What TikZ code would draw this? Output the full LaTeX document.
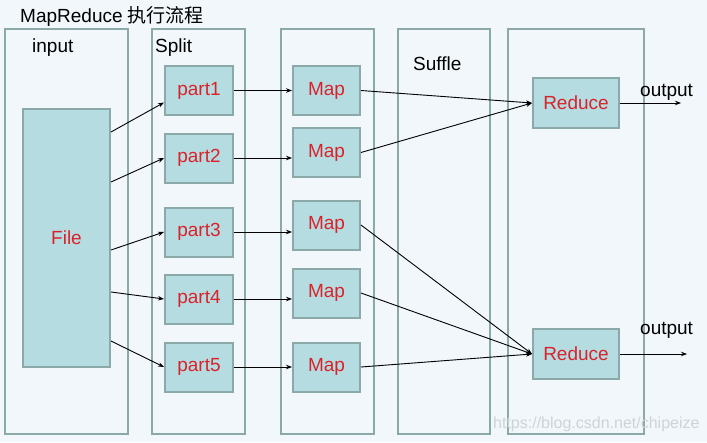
\documentclass[tikz,border=0pt]{standalone}
\usepackage{fontspec}
\setmainfont{Liberation Sans}
\newfontfamily\cjk{Noto Sans CJK SC}
\usetikzlibrary{arrows.meta,calc}
\definecolor{bgc}{HTML}{F2F7FB}
\definecolor{edgec}{HTML}{8CA9AA}
\definecolor{boxc}{HTML}{B5DCE1}
\definecolor{redc}{HTML}{D9232B}
\definecolor{wmc}{HTML}{CDD4D9}
\begin{document}
\begin{tikzpicture}[x=1pt,y=-1pt,
  column/.style={draw=edgec,line width=2pt,rectangle,inner sep=0pt},
  stagebox/.style={draw=edgec,fill=boxc,line width=2pt,rectangle,inner sep=0pt,
    minimum width=68pt,minimum height=49pt,font=\fontsize{19}{22}\selectfont,text=redc},
  lbl/.style={inner sep=0pt,font=\fontsize{19}{22}\selectfont,anchor=base west},
  conn/.style={line width=0.9pt,-{Stealth[length=6pt,width=4.5pt]}}]
\fill[bgc] (0,0) rectangle (707,442);
\useasboundingbox (0,0) rectangle (707,442);
% columns
\node[column,minimum width=123pt,minimum height=405pt] (cin) at (66.5,231.5) {};
\node[column,minimum width=93pt,minimum height=405pt] (csplit) at (198.5,231.5) {};
\node[column,minimum width=93pt,minimum height=405pt] (cmap) at (327.5,231.5) {};
\node[column,minimum width=92pt,minimum height=405pt] (csuf) at (444,231.5) {};
\node[column,minimum width=136pt,minimum height=405pt] (cred) at (576,231.5) {};
% labels
\node[lbl] (title) at (20,22) {MapReduce {\cjk 执行流程}};
\node[lbl] (linput) at (32,52) {input};
\node[lbl] (lsplit) at (155,52) {Split};
\node[lbl] (lsuf) at (413,70) {Suffle};
% file
\node[stagebox,minimum width=87pt,minimum height=258pt] (file) at (66.5,238) {File};
% parts
\node[stagebox] (p1) at (199,90.5) {part1};
\node[stagebox] (p2) at (199,158) {part2};
\node[stagebox] (p3) at (199,232) {part3};
\node[stagebox] (p4) at (199,299) {part4};
\node[stagebox] (p5) at (199,367) {part5};
% maps
\node[stagebox,minimum width=67pt] (m1) at (326.5,90.5) {Map};
\node[stagebox,minimum width=67pt] (m2) at (326.5,152.5) {Map};
\node[stagebox,minimum width=67pt] (m3) at (326.5,225) {Map};
\node[stagebox,minimum width=67pt] (m4) at (326.5,293) {Map};
\node[stagebox,minimum width=67pt] (m5) at (326.5,367) {Map};
% reduces
\node[stagebox,minimum width=86pt,minimum height=50pt] (r1) at (576,103) {Reduce};
\node[stagebox,minimum width=86pt,minimum height=50pt] (r2) at (576,354) {Reduce};
% file exit points
\coordinate (f1) at ([yshift=-24pt]file.north east);
\coordinate (f2) at ([yshift=-74pt]file.north east);
\coordinate (f3) at ([yshift=-142pt]file.north east);
\coordinate (f4) at ([yshift=-184pt]file.north east);
\coordinate (f5) at ([yshift=-233pt]file.north east);
\draw[conn] (f1) -- ([yshift=-12pt]p1.west);
\draw[conn] (f2) -- (p2.west);
\draw[conn] (f3) -- (p3.west);
\draw[conn] (f4) -- (p4.west);
\draw[conn] (f5) -- (p5.west);
% part to map
\draw[conn] (p1.east) -- (p1.east -| m1.west);
\draw[conn] (p2.east) -- (p2.east -| m2.west);
\draw[conn] (p3.east) -- (p3.east -| m3.west);
\draw[conn] (p4.east) -- (p4.east -| m4.west);
\draw[conn] (p5.east) -- (p5.east -| m5.west);
% map to reduce
\draw[conn] (m1.east) -- (r1.west);
\draw[conn] (m2.east) -- (r1.west);
\draw[conn] (m3.east) -- (r2.west);
\draw[conn] (m4.east) -- (r2.west);
\draw[conn] (m5.east) -- (r2.west);
% outputs
\coordinate (o1) at (681,103);
\coordinate (o2) at (687,354);
\draw[conn] (r1.east) -- (o1);
\draw[conn] (r2.east) -- (o2);
\node[lbl] (lout1) at (640,96) {output};
\node[lbl] (lout2) at (640,334) {output};
% watermark
\node[inner sep=0pt,anchor=base west,font=\fontsize{16}{18}\selectfont,text=wmc] (wm) at (493,428) {https://blog.csdn.net/chipeize};
\end{tikzpicture}
\end{document}
